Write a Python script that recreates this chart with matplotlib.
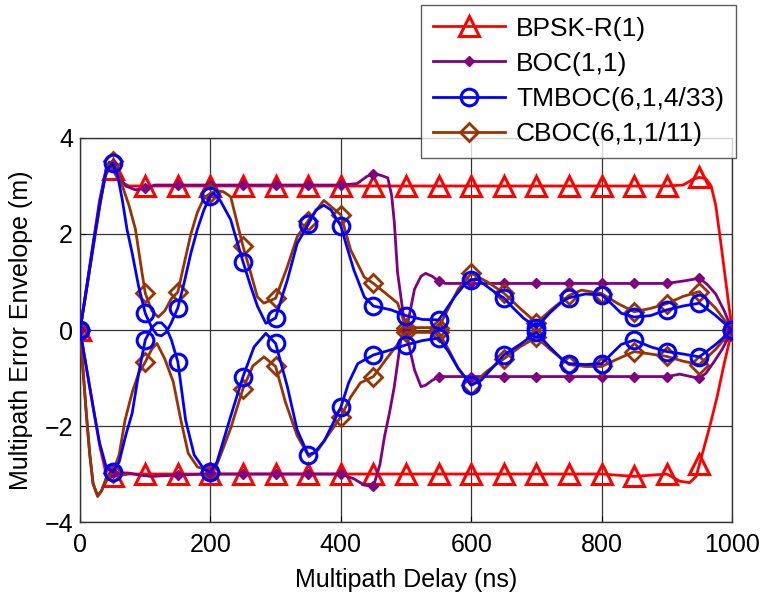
import matplotlib.pyplot as plt

plt.rcParams['font.family'] = ['Liberation Sans', 'DejaVu Sans']

# BPSK-R(1)
bpsk_up_x = [0, 10, 20, 30, 40, 45, 50, 60, 75, 100, 150, 200, 250, 300, 350, 400, 450, 500, 550,
             600, 650, 700, 750, 800, 850, 900, 925, 940, 950, 960, 968, 975, 982, 991, 1000]
bpsk_up_y = [0, 0.85, 1.7, 2.55, 3.35, 3.42, 3.35, 3.1, 3.0, 3.0, 3.0, 3.0, 3.0, 3.0, 3.0, 3.0, 3.0, 3.0, 3.0,
             3.0, 3.0, 3.0, 3.0, 3.0, 3.0, 3.0, 3.02, 3.14, 3.18, 3.15, 3.0, 2.6, 1.9, 0.95, 0]
bpsk_lo_x = [0, 10, 20, 30, 40, 45, 50, 75, 100, 150, 200, 250, 300, 350, 400, 450, 500, 550,
             600, 650, 700, 750, 800, 850, 900, 920, 935, 945, 950, 958, 966, 977, 988, 1000]
bpsk_lo_y = [0, -0.8, -1.6, -2.4, -3.0, -3.08, -3.05, -3.0, -3.0, -3.0, -3.0, -3.0, -3.0, -3.0, -3.0, -3.0, -3.0, -3.0,
             -3.0, -3.0, -3.0, -3.0, -3.0, -3.05, -3.0, -3.15, -3.18, -3.05, -2.8, -2.4, -2.0, -1.4, -0.7, 0]

# BOC(1,1)
boc_up_x = [0, 10, 20, 30, 40, 45, 50, 60, 70, 85, 100, 115, 150, 200, 250, 300, 350, 400, 425, 440, 450,
            462, 472, 478, 482, 487, 492, 496, 500, 505, 513, 523, 530, 540, 550, 560, 600, 650, 700,
            750, 800, 850, 900, 930, 950, 962, 975, 988, 1000]
boc_up_y = [0, 0.9, 1.8, 2.7, 3.35, 3.5, 3.45, 3.2, 3.0, 2.92, 2.95, 3.02, 3.02, 3.02, 3.02, 3.02, 3.02, 3.02, 3.05, 3.2, 3.26,
            3.22, 3.17, 2.8, 2.25, 1.2, 0.7, 0.3, 0, 0.3, 0.85, 1.12, 1.18, 1.12, 1.02, 0.97, 0.97, 0.97, 0.97,
            0.97, 0.97, 0.97, 0.97, 1.03, 1.08, 0.95, 0.75, 0.4, 0]
boc_lo_x = [0, 5, 10, 15, 20, 27, 33, 40, 50, 75, 90, 110, 150, 200, 250, 300, 350, 400, 420, 436, 450,
            460, 467, 475, 482, 488, 492, 500, 505, 513, 523, 530, 540, 550, 600, 650, 700, 750, 800,
            850, 900, 920, 940, 950, 960, 973, 985, 1000]
boc_lo_y = [0, -0.9, -1.8, -2.6, -3.2, -3.45, -3.35, -3.1, -2.97, -2.98, -3.02, -3.05, -3.02, -3.0, -3.0, -3.0, -3.0, -3.0, -3.1, -3.23, -3.26,
            -2.8, -2.22, -1.7, -1.18, -0.6, -0.2, 0, -0.35, -0.83, -1.18, -1.15, -1.05, -0.97, -0.97, -0.97, -0.97, -0.97, -0.97,
            -0.97, -0.97, -0.92, -0.98, -1.0, -0.9, -0.65, -0.4, 0]

# TMBOC(6,1,4/33)
tm_up_x = [0, 10, 20, 30, 40, 50, 58, 65, 72, 80, 90, 100, 110, 118, 125, 132, 140, 150, 160, 170, 180, 190, 200,
           205, 215, 231, 250, 262, 272, 285, 300, 310, 318, 333, 350, 362, 374, 385, 400, 410, 420, 436, 450,
           477, 500, 525, 550, 560, 575, 590, 600, 610, 625, 640, 650, 665, 680, 700, 720, 740, 750, 775, 800,
           815, 830, 850, 875, 900, 925, 950, 975, 1000]
tm_up_y = [0, 0.85, 1.75, 2.6, 3.3, 3.48, 3.2, 2.7, 2.1, 1.6, 0.9, 0.35, 0.05, -0.1, -0.12, -0.05, 0.15, 0.46, 1.0, 1.6, 2.1, 2.5, 2.8,
           2.85, 2.7, 2.3, 1.42, 0.9, 0.5, 0.14, 0.25, 0.7, 1.04, 1.8, 2.2, 2.5, 2.6, 2.5, 2.17, 1.7, 1.25, 0.69, 0.5,
           0.42, 0.3, 0.22, 0.21, 0.4, 0.7, 0.95, 1.05, 1.05, 0.9, 0.75, 0.67, 0.45, 0.25, 0.05, 0.35, 0.6, 0.67, 0.75, 0.73,
           0.55, 0.35, 0.27, 0.3, 0.42, 0.5, 0.56, 0.3, 0]
tm_lo_x = [0, 10, 20, 30, 40, 50, 60, 70, 80, 90, 100, 110, 118, 125, 132, 140, 150, 162, 175, 190, 200,
           210, 220, 231, 250, 267, 285, 300, 318, 333, 350, 360, 375, 400, 412, 426, 450, 475, 500, 525, 550,
           565, 580, 600, 615, 635, 650, 675, 700, 720, 740, 750, 775, 800, 815, 830, 850, 875, 900, 925, 950, 975, 1000]
tm_lo_y = [0, -0.8, -1.6, -2.35, -2.85, -2.96, -2.75, -2.2, -1.73, -0.9, -0.21, 0.05, 0.15, 0.15, 0.05, -0.2, -0.66, -1.88, -2.6, -2.9, -2.96,
           -2.75, -2.3, -1.8, -0.97, -0.35, -0.07, -0.28, -1.18, -2.08, -2.6, -2.55, -2.3, -1.61, -1.1, -0.7, -0.52, -0.42, -0.31, -0.22, -0.17,
           -0.45, -0.8, -1.15, -1.05, -0.75, -0.52, -0.3, -0.05, -0.35, -0.62, -0.7, -0.72, -0.7, -0.5, -0.3, -0.21, -0.35, -0.45, -0.5, -0.56, -0.3, 0]

# CBOC(6,1,1/11)
cb_up_x = [0, 10, 20, 30, 40, 50, 60, 70, 75, 85, 95, 100, 110, 120, 130, 140, 150, 160, 170, 180, 190, 200,
           210, 220, 231, 250, 262, 272, 282, 300, 318, 333, 350, 374, 400, 415, 436, 450, 470, 487, 500, 525, 550,
           565, 580, 600, 625, 650, 675, 700, 725, 750, 769, 800, 825, 850, 875, 900, 925, 950, 975, 1000]
cb_up_y = [0, 0.85, 1.75, 2.6, 3.3, 3.52, 3.2, 2.8, 2.6, 2.1, 1.2, 0.77, 0.4, 0.27, 0.4, 0.65, 0.79, 1.4, 2.0, 2.45, 2.75, 2.85,
           2.9, 2.88, 2.78, 1.74, 1.18, 0.69, 0.56, 0.66, 1.32, 1.94, 2.28, 2.7, 2.4, 1.67, 1.1, 0.97, 0.75, 0.56, 0.05, 0.05, 0.05,
           0.45, 0.85, 1.18, 1.0, 0.77, 0.45, 0.15, 0.45, 0.72, 0.83, 0.76, 0.55, 0.38, 0.45, 0.55, 0.7, 0.8, 0.45, 0]
cb_lo_x = [0, 5, 10, 15, 20, 27, 33, 40, 50, 60, 69, 80, 90, 100, 110, 118, 130, 143, 155, 166, 180, 200,
           210, 220, 231, 250, 265, 282, 300, 315, 333, 351, 365, 380, 400, 415, 430, 450, 470, 487, 500, 525, 550,
           565, 580, 600, 625, 650, 675, 700, 725, 750, 775, 800, 825, 850, 875, 900, 925, 950, 975, 1000]
cb_lo_y = [0, -0.9, -1.8, -2.6, -3.2, -3.47, -3.35, -3.1, -2.97, -2.6, -1.88, -1.3, -0.9, -0.67, -0.4, -0.28, -0.6, -1.08, -1.9, -2.57, -2.85, -2.95,
           -2.8, -2.45, -2.05, -1.22, -0.75, -0.56, -0.76, -1.5, -2.2, -2.64, -2.5, -2.2, -1.81, -1.4, -1.1, -0.97, -0.6, -0.3, -0.05, -0.05, -0.05,
           -0.4, -0.8, -1.15, -0.85, -0.6, -0.35, -0.15, -0.45, -0.72, -0.76, -0.76, -0.6, -0.45, -0.5, -0.55, -0.65, -0.72, -0.4, 0]

labels = ['BPSK-R(1)', 'BOC(1,1)', 'TMBOC(6,1,4/33)', 'CBOC(6,1,1/11)']


def marks(xs):
    return [i for i, v in enumerate(xs) if v % 50 == 0]


fig = plt.figure(figsize=(7.65, 5.93), dpi=100)
ax = fig.add_axes([0.1046, 0.1197, 0.8523, 0.6476])

red = '#ff0000'
purple = '#800080'
blue = '#0000ff'
brown = '#993300'

styles = [
    (bpsk_up_x, bpsk_up_y, bpsk_lo_x, bpsk_lo_y, dict(color=red, marker='^', ms=14, mfc='none', mew=2.2, zorder=3)),
    (boc_up_x, boc_up_y, boc_lo_x, boc_lo_y, dict(color=purple, marker='D', ms=5, mfc=purple, mew=1, zorder=4)),
    (tm_up_x, tm_up_y, tm_lo_x, tm_lo_y, dict(color=blue, marker='o', ms=12, mfc='none', mew=2.2, zorder=6)),
    (cb_up_x, cb_up_y, cb_lo_x, cb_lo_y, dict(color=brown, marker='D', ms=9, mfc='none', mew=2, zorder=5)),
]

handles = []
for (ux, uy, lx, ly, st), lab in zip(styles, labels):
    h, = ax.plot(ux, uy, lw=2, markevery=marks(ux), label=lab, **st)
    ax.plot(lx, ly, lw=2, markevery=marks(lx), **st)
    handles.append(h)

ax.set_xlim(0, 1000)
ax.set_ylim(-4, 4)
ax.set_xticks([0, 200, 400, 600, 800, 1000])
ax.set_yticks([-4, -2, 0, 2, 4])
ax.grid(True, color='#333333', lw=0.9)
ax.tick_params(direction='in', labelsize=18, length=4)
ax.tick_params(axis='x', pad=8)
ax.tick_params(axis='y', pad=5)
for s in ax.spines.values():
    s.set_linewidth(1)
    s.set_color('#333333')

ax.set_xlabel('Multipath Delay (ns)', fontsize=18, labelpad=8)
ax.set_ylabel('Multipath Error Envelope (m)', fontsize=18, labelpad=8)

leg = fig.legend(handles, labels, loc='upper right', bbox_to_anchor=(0.962, 0.992),
                 fontsize=19, frameon=True, fancybox=False, edgecolor='#333333',
                 handlelength=2.75, handletextpad=0.4, labelspacing=0.42, borderpad=0.45,
                 borderaxespad=0)
leg.get_frame().set_linewidth(1)
leg.set_zorder(10)

plt.savefig('out.png', dpi=100)
